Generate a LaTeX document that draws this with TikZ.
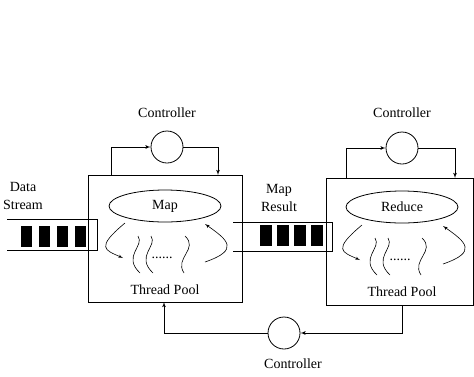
\documentclass[tikz,border=0pt]{standalone}
\usepackage{fontspec}
\setmainfont{Liberation Serif}
\usetikzlibrary{shapes.geometric}
\usetikzlibrary{arrows}

\begin{document}
\begin{tikzpicture}[>=latex', x=1pt, y=-1pt, line width=0.8pt,
    txt/.style={font=\fontsize{14}{18}\selectfont, inner sep=0pt, align=center},
    pool/.style={draw, minimum height=127pt, inner sep=0pt},
    ctrl/.style={draw, circle, minimum size=32pt, inner sep=0pt},
    task/.style={draw, ellipse, minimum width=112pt, minimum height=32pt,
      inner sep=0pt, font=\fontsize{14}{16}\selectfont},
    thread/.style={line width=0.6pt}]

      \useasboundingbox (0,0) rectangle (474,376);

      % POOLS
      \node[pool, minimum width=154pt] (mappool) at (165,238.5) {};
      \node[pool, minimum width=147pt] (redpool) at (399.5,241.5) {};

      \node[task] (map) at (165,206) {Map};
      \node[task] (reduce) at (402,207) {Reduce};

      \node[txt] (mappoollbl) at (165,290) {Thread Pool};
      \node[txt] (redpoollbl) at (402,292) {Thread Pool};

      % threads (map)
      \draw[thread] (138,236) .. controls (145,246) and (122,256) .. (140,273);
      \draw[thread] (151,236) .. controls (158,246) and (135,256) .. (153,273);
      \draw[thread] (185,236) .. controls (199,249) and (174,258) .. (184,273);
      \node[txt] (mapdots) at (162,258) {......};
      \draw[thread, ->] (125,223) .. controls (95,248) and (105,250) .. (123,258);
      \draw[thread, ->] (205,262) .. controls (240,250) and (228,240) .. (205,224);

      % threads (reduce)
      \draw[thread] (375,238) .. controls (382,248) and (359,258) .. (377,275);
      \draw[thread] (388,238) .. controls (395,248) and (372,258) .. (390,275);
      \draw[thread] (422,238) .. controls (436,251) and (411,260) .. (421,275);
      \node[txt] (reddots) at (400,260) {......};
      \draw[thread, ->] (362,225) .. controls (332,250) and (342,252) .. (360,260);
      \draw[thread, ->] (443,264) .. controls (478,252) and (466,242) .. (443,226);

      % QUEUES
      \node[txt] (streamlbl) at (23,196) {Data\\Stream};
      \draw (7,219) -- (97,219) -- (97,250) -- (7,250);
      \fill (21,226) rectangle (32,247);
      \fill (39,226) rectangle (50,247);
      \fill (57,226) rectangle (68,247);
      \fill (75,226) rectangle (86,247);

      \node[txt] (resultlbl) at (279,197.5) {Map\\Result};
      \draw (233,222) -- (332,222) -- (332,251) -- (233,251);
      \fill (260,225) rectangle (272,246);
      \fill (277,225) rectangle (289,246);
      \fill (294,225) rectangle (306,246);
      \fill (311,225) rectangle (323,246);

      % CONTROLLERS
      \node[ctrl] (ctrlmap) at (167,147) {};
      \node[ctrl] (ctrlred) at (402,148) {};
      \node[ctrl] (ctrlpool) at (284,333) {};
      \node[txt] (ctrlmaplbl) at (167,113) {Controller};
      \node[txt] (ctrlredlbl) at (402,113) {Controller};
      \node[txt] (ctrlpoollbl) at (293,364) {Controller};

      \coordinate (mapin) at (111,175);
      \coordinate (mapout) at (218,175);
      \coordinate (redin) at (346,178);
      \coordinate (redout) at (455,178);
      \coordinate (redbot) at (402,305);
      \coordinate (mapbot) at (164,302);

      \draw[->] (mapin) |- (ctrlmap.west);
      \draw[->] (ctrlmap.east) -| (mapout);
      \draw[->] (redin) |- (ctrlred.west);
      \draw[->] (ctrlred.east) -| (redout);
      \draw[->] (redbot) |- (ctrlpool.east);
      \draw[->] (ctrlpool.west) -| (mapbot);

\end{tikzpicture}
\end{document}
